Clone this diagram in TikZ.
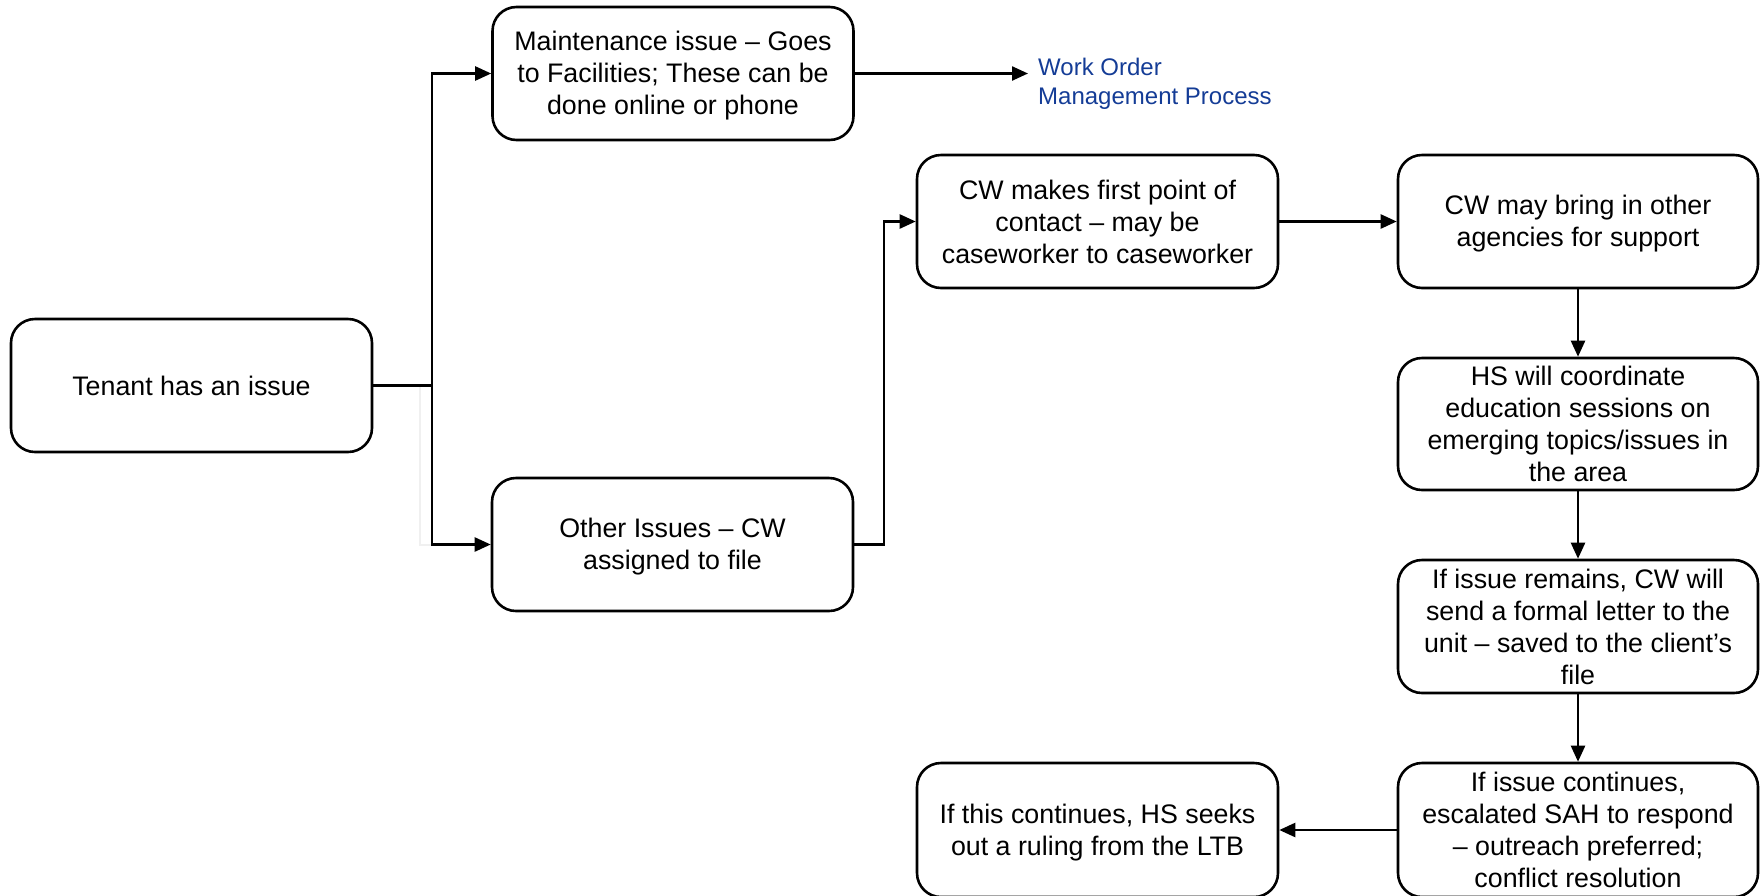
\documentclass[tikz,border=0pt]{standalone}
\usepackage{fontspec}
\setmainfont{Liberation Sans}
\usetikzlibrary{arrows.meta}
\definecolor{linkblue}{RGB}{20,60,150}
% invisible strut that lowers a text block slightly
\newcommand{\lowstrut}{\rule{0pt}{24pt}}
\begin{document}
\begin{tikzpicture}[x=1pt,y=-1pt,
  box/.style={draw, line width=2.6pt, rounded corners=24pt, align=center,
    minimum width=361pt, minimum height=133pt, inner sep=2pt,
    font=\fontsize{26.8}{32}\selectfont},
  flow/.style={line width=2.4pt, -{Triangle[length=16pt,width=14pt]}},
  plain/.style={line width=2.4pt}]
\useasboundingbox (0,0) rectangle (1764,895);

% process steps
\node[box] (tenant) at (191.5,385.5) {Tenant has an issue};
\node[box] (maint) at (673,73.5) {\lowstrut Maintenance issue -- Goes\\to Facilities; These can be\\done online or phone};
\node[box] (other) at (672.5,544.5) {\lowstrut Other Issues -- CW\\assigned to file};
\node[box] (first) at (1097.5,221.5) {CW makes first point of\\contact -- may be\\caseworker to caseworker};
\node[box, minimum width=360pt] (bring) at (1578,221.5) {\lowstrut CW may bring in other\\agencies for support};
\node[box, minimum width=360pt, minimum height=132pt] (hs) at (1578,424) {HS will coordinate\\education sessions on\\emerging topics/issues in\\the area};
\node[box, minimum width=360pt] (remains) at (1578,626.5) {If issue remains, CW will\\send a formal letter to the\\unit -- saved to the client's\\file};
\node[box, minimum width=360pt, minimum height=134pt] (cont) at (1578,830) {If issue continues,\\escalated SAH to respond\\-- outreach preferred;\\conflict resolution};
\node[box, minimum height=134pt] (ltb) at (1097.5,830) {\lowstrut If this continues, HS seeks\\out a ruling from the LTB};

% external process reference
\node[anchor=west, align=left, text=linkblue, inner sep=0pt,
  font=\fontsize{24}{29}\selectfont] (wo) at (1038,83.5) {Work Order\\Management Process};

% branching from the tenant
\coordinate (split) at (432,385.5);
\coordinate (faint) at (420,385.5);
\draw[gray!12, line width=2pt] (faint) |- (other.west -| split);
\draw[plain] (tenant.east) -- (split);
\draw[flow] (split) |- (maint.west);
\draw[flow] (split) |- (other.west);

% maintenance route
\coordinate (woin) at (1028,73.5);
\draw[flow] (maint.east) -- (woin);

% casework route
\coordinate (bend) at (884,544.5);
\draw[flow] (other.east) -- (bend) |- (first.west);
\draw[flow] (first.east) -- (bring.west);
\draw[flow] (bring.south) -- (hs.north);
\draw[flow] (hs.south) -- (remains.north);
\draw[flow] (remains.south) -- (cont.north);
\draw[flow] (cont.west) -- (ltb.east);
\end{tikzpicture}
\end{document}
